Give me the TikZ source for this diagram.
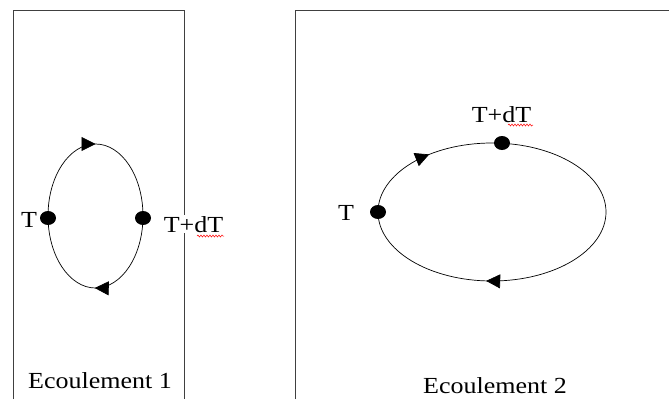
\documentclass[tikz,border=0pt]{standalone}
\usepackage{fontspec}
\setmainfont{Liberation Serif}
\usetikzlibrary{arrows.meta, shapes.geometric, decorations.markings, decorations.pathmorphing}

\newcommand{\wide}[1]{\scalebox{1.13}[1]{#1}}

\begin{document}
\begin{tikzpicture}[x=1pt, y=-1pt,
  frame/.style={draw=black!75, line width=0.8pt},
  loop/.style={draw, line width=0.7pt},
  flow/.style={postaction={decorate, decoration={markings,
      mark=at position #1 with {\arrow{Triangle[length=14pt, width=14pt]}}}}},
  dot/.style={ellipse, fill, inner sep=0pt, minimum width=16pt, minimum height=14pt},
  lbl/.style={font=\fontsize{23}{26}\selectfont, inner sep=1pt, anchor=base},
  spell/.style={draw=red, line width=0.5pt, decorate,
      decoration={snake, amplitude=1pt, segment length=3pt}}]
  \useasboundingbox (0,0) rectangle (669,399);

  % Ecoulement 1
  \draw[frame] (13,399) -- (13,10) -- (184,10) -- (184,399);
  \draw[loop, flow=0.75, flow=0.252] (95.5,216) ellipse (47.5 and 72);
  \node[dot] (t1) at (48,218) {};
  \node[dot] (dt1) at (143,218) {};
  \node[lbl] (lt1) at (29,227) {\wide{T}};
  \node[lbl, fill=white] (ldt1) at (193.5,232) {\wide{T+dT}};
  \draw[spell] (197,236) -- (224,236);
  \node[lbl] (name1) at (100,388) {\wide{Ecoulement 1}};

  % Ecoulement 2
  \draw[frame] (295,399) -- (295,10) -- (669,10);
  \draw[loop, flow=0.64, flow=0.26] (492,212) ellipse (114 and 69);
  \node[dot] (t2) at (378,212) {};
  \node[dot] (dt2) at (502,143) {};
  \node[lbl] (lt2) at (346,220) {\wide{T}};
  \node[lbl] (ldt2) at (501.5,122) {\wide{T+dT}};
  \draw[spell] (508,125) -- (533,125);
  \node[lbl] (name2) at (495,393) {\wide{Ecoulement 2}};
\end{tikzpicture}
\end{document}
